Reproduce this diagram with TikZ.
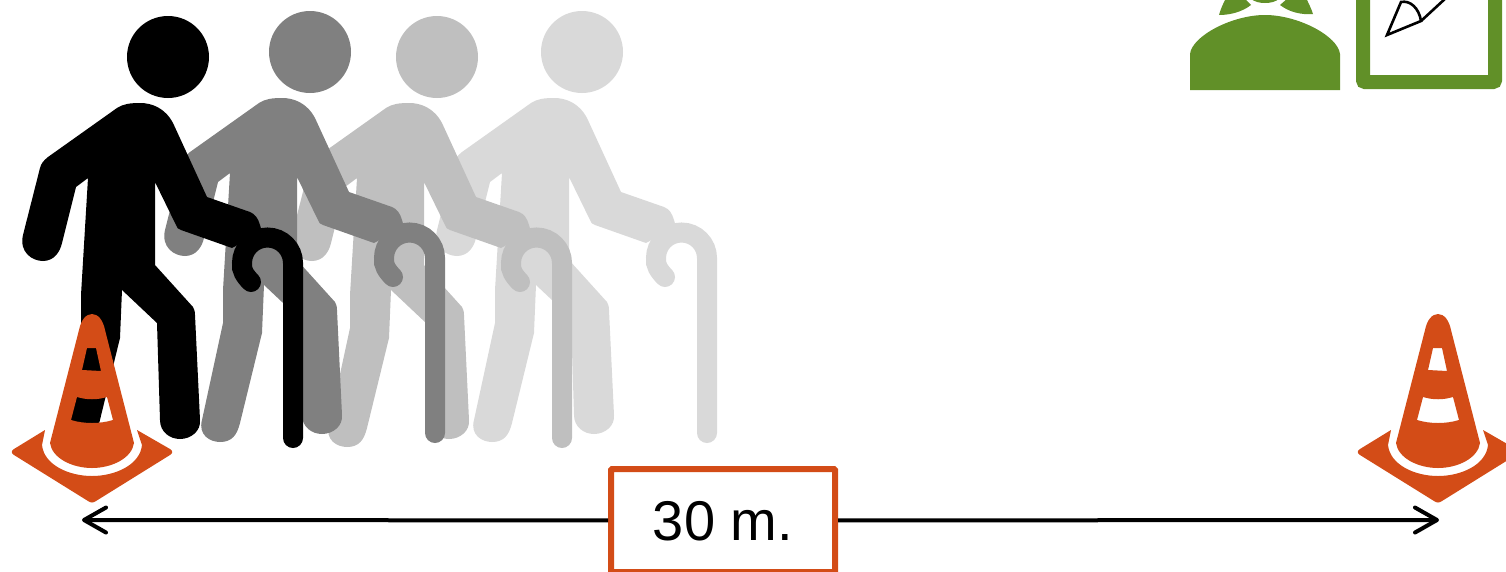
\documentclass[tikz,border=0pt]{standalone}
\usepackage{fontspec}
\usepackage{xcolor}
\usepackage{tikz}
\usetikzlibrary{arrows.meta,positioning,calc}
\setmainfont{Liberation Sans}
\definecolor{conecolor}{RGB}{211, 76, 23}
\definecolor{watchcolor}{RGB}{97, 144, 40}
\definecolor{walkerone}{RGB}{128, 128, 128}
\definecolor{walkertwo}{RGB}{191, 191, 191}
\definecolor{walkerthree}{RGB}{217, 217, 217}
% one walker with his cane: shift x, shift y, colour
\newcommand{\walker}[3]{
\begin{scope}[shift={(#1,#2)}]
\fill[#3](168,57) circle (41);
\fill[#3](117,108)--(48,157) .. controls (43,161) and (41,164) .. (40,168)--(23,235)
 .. controls (19,252) and (32,261) .. (43,261) .. controls (54,261) and (60,252) .. (62,243)
 --(76,187)--(88,178)--(81,295)--(81,328)--(60,425)
 .. controls (56,440) and (68,447) .. (78,447) .. controls (90,447) and (95,440) .. (98,428)
 --(120,338)--(122,290)--(157,323)--(160,420)
 .. controls (160,432) and (170,439) .. (180,439) .. controls (191,439) and (201,431) .. (200,420)
 --(195,315) .. controls (195,311) and (194,309) .. (193,307)--(155,265)--(155,182)
 --(176,225) .. controls (177,228) and (178,229) .. (181,230)--(232,248)--(262,232)--(260,225)
 .. controls (258,218) and (255,214) .. (250,212)--(207,197)--(173,123)
 .. controls (165,108) and (152,103) .. (140,103) .. controls (130,103) and (123,104) .. (117,108)--cycle;
\draw[canestroke,draw=#3](293,438)--(293,263) arc (0:-180:25.5) .. controls (241,270) and (245,276) .. (251,282);
\end{scope}}
% one cone: shift x
\newcommand{\cone}[1]{
\begin{scope}[shift={(#1,0)}]
\fill[conecolor,even odd rule](79,330) .. controls (81,320) and (86,314) .. (92,314) .. controls (98,314) and (103,320) .. (105,330)
 --(134,443) .. controls (132,458) and (112,468) .. (92,468) .. controls (72,468) and (52,458) .. (50,443)--cycle
 (87,348)--(96,348)--(101,371)--(82,370)--cycle
 (77,397) .. controls (87,400) and (97,400) .. (107,397)--(113,420) .. controls (100,424) and (84,424) .. (71,420)--cycle;
\fill[conecolor](45,430)--(14,449) .. controls (11,451) and (11,453) .. (14,455)--(88,501) .. controls (91,503) and (93,503) .. (96,501)
 --(170,455) .. controls (173,453) and (173,451) .. (170,449)--(137,430)--(142,445)
 .. controls (140,465) and (115,476) .. (92,476) .. controls (69,476) and (44,465) .. (42,445)--cycle;
\end{scope}}

\begin{document}
\begin{tikzpicture}[x=1pt,y=-1pt,>={Straight Barb[round,length=22pt,width=25pt]},
 canestroke/.style={line width=20pt,line cap=round},
 arrowline/.style={->,line width=4pt},
 every node/.style={font=\fontsize{56}{60}\selectfont}]
\path[use as bounding box,clip](0,0) rectangle (1506,571);
\walker{414}{-5}{walkerthree}
\walker{269}{0}{walkertwo}
\walker{142}{-5}{walkerone}
\walker{0}{0}{black}
\cone{0} \cone{1346}
% the observer and her board
\fill[watchcolor](1190,90)--(1190,54) .. controls (1192,36) and (1232,15) .. (1265,15) .. controls (1298,15) and (1338,36) .. (1340,54)--(1340,90)--cycle;
\fill[watchcolor](1219,15) .. controls (1221,8) and (1223,4) .. (1226,-2)--(1244,-2)--(1251,5) .. controls (1242,12) and (1230,15) .. (1219,15)--cycle;
\fill[watchcolor](1313,14) .. controls (1311,8) and (1309,4) .. (1306,-2)--(1288,-2)--(1280,5) .. controls (1289,12) and (1301,15) .. (1313,14)--cycle;
\fill[watchcolor](1250,-2) .. controls (1254,2) and (1260,3) .. (1265,3) .. controls (1270,3) and (1276,2) .. (1280,-2)--cycle;
\draw[watchcolor,line width=14pt,rounded corners=2pt](1363,-20) rectangle (1495,82);
\draw[line width=2.6pt](1387,35)--(1401,2) .. controls (1410,0) and (1419,8) .. (1421,21)--cycle;
\draw[line width=2.6pt](1421,21)--(1447,-3);
% the distance
\node[draw=conecolor,line width=6pt,fill=white,minimum width=224pt,minimum height=103pt,inner sep=0pt,text height=40pt,text depth=0pt,rounded corners=1pt](distbox) at (723,520.5){30 m.};
\coordinate (arrowl) at (82,520);
\coordinate (arrowr) at (1439,520);
\draw[arrowline](distbox)--(arrowl);
\draw[arrowline](distbox)--(arrowr);
\end{tikzpicture}
\end{document}
